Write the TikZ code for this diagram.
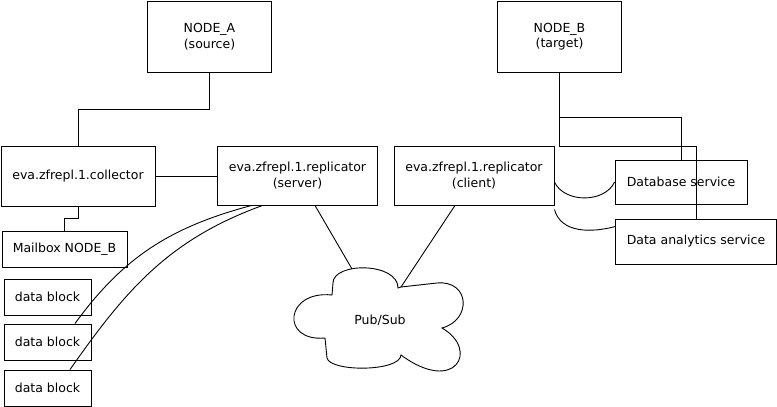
\documentclass[tikz,border=0pt]{standalone}
\usepackage{fontspec}
\setmainfont{DejaVu Sans}
\usepackage{xcolor}
\usepackage{tikz}
\usetikzlibrary{calc,positioning}

\begin{document}
\begin{tikzpicture}[x=1pt, y=-1pt, line width=0.9pt,
    box/.style={draw, inner sep=0pt, align=center,
      font=\fontsize{12.5}{15.5}\selectfont},
    ]

    \useasboundingbox (0,0) rectangle (777,407);

    % Nodes
    \node[box, minimum width=124, minimum height=71] (nodeA) at (209.5,36.5) {NODE\_A\\(source)};
    \node[box, minimum width=124, minimum height=71] (nodeB) at (559.5,36.5) {NODE\_B\\(target)};

    \node[box, minimum width=154, minimum height=60] (collector) at (78,176) {eva.zfrepl.1.collector};
    \node[box, minimum width=160, minimum height=59] (server) at (297.5,175.5) {eva.zfrepl.1.replicator\\(server)};
    \node[box, minimum width=160, minimum height=59] (client) at (474,175.5) {eva.zfrepl.1.replicator\\(client)};

    \node[box, minimum width=132, minimum height=44] (database) at (681,182) {Database service};
    \node[box, minimum width=161, minimum height=45] (analytics) at (696,241.5) {Data analytics service};

    \node[box, minimum width=125, minimum height=36] (mailbox) at (64.5,249) {Mailbox NODE\_B};

    % Blocks
    \foreach \i/\y in {1/297,2/342,3/388} {
        \node[box, minimum width=87, minimum height=36] (block\i) at (47.5,\y) {data block};
    }

    % Cloud
    \draw (333,283) .. controls (333,262) and (398,262) .. (398,288)
      -- (401,287) -- (437,283)
      .. controls (470,280) and (472,320) .. (442,328)
      .. controls (480,350) and (455,395) .. (401,355)
      .. controls (400,372) and (330,372) .. (327,358)
      -- (325,338)
      .. controls (280,342) and (285,290) .. (332,295)
      -- cycle;
    \node[font=\fontsize{12.5}{15}\selectfont] (pubsub) at (380,320) {Pub/Sub};
    \coordinate (cloudtop) at (352,269);
    \coordinate (cloudnotch) at (401,287);

    % Links
    \draw (nodeA.south) -- ++(0,37) -| (collector.north);
    \draw (collector.east) -- (collector.east -| server.west);
    \draw (collector.south) -- ++(0,12) -| (mailbox.north);
    \draw (nodeB.south) -- ++(0,45) -| (database.north);
    \draw (nodeB.south) -- ++(0,74) -| (analytics.north);

    \draw ([xshift=17.5pt]server.south) -- (cloudtop);
    \draw ([xshift=-19pt]client.south) -- (cloudnotch);

    \draw (database.west -| client.east) to[out=-65, in=-115] (database.west);
    \draw ([yshift=-4pt]client.south east) to[out=-75, in=195] ([yshift=-8pt]analytics.north west);

    \draw ([xshift=34.5pt]server.south west) to[out=195, in=54] ([xshift=27.5pt]block2.north);
    \draw ([xshift=45.5pt]server.south west) to[out=200, in=55] ([xshift=22.5pt]block3.north);
\end{tikzpicture}
\end{document}
